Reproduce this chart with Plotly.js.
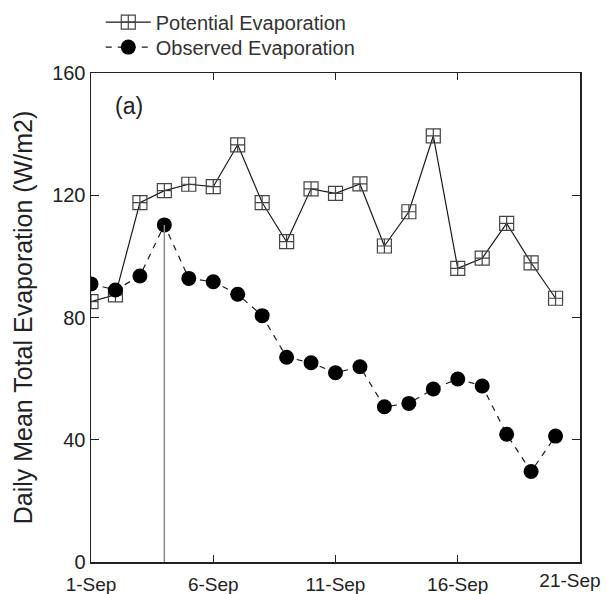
<!DOCTYPE html>
<html>
<head>
<meta charset="utf-8">
<script src="https://cdn.plot.ly/plotly-3.0.1.min.js"></script>
<style>html,body{margin:0;padding:0;background:#fff;}#chart{width:607px;height:594px;}</style>
</head>
<body>
<div id="chart"></div>
<script>
const days = [1,2,3,4,5,6,7,8,9,10,11,12,13,14,15,16,17,18,19,20];
const potential = [85.2,87.4,117.6,121.5,123.6,122.8,136.5,117.6,104.8,122.1,120.6,123.7,103.4,114.6,139.4,96.1,99.4,110.8,97.9,86.3];
const observed = [91.0,89.0,93.6,110.3,92.8,91.7,87.6,80.6,67.0,65.2,61.9,63.9,50.8,51.9,56.6,59.9,57.6,41.8,29.6,41.2];
const tickDays = [1,6,11,16,21];
const tickLabels = ['1-Sep','6-Sep','11-Sep','16-Sep','21-Sep'];
const markerDay = 4;

const n = tickDays.length;
const idx = days.indexOf(markerDay);
const traces = [
  {
    x: [markerDay, markerDay], y: [0, observed[idx]], xaxis: 'x2',
    mode: 'lines', line: {color: '#8c8c8c', width: 1.5},
    showlegend: false, hoverinfo: 'skip'
  },
  {
    x: days, y: potential, name: 'Potential Evaporation',
    mode: 'lines+markers', legend: 'legend',
    line: {color: '#1a1a1a', width: 1.2},
    marker: {symbol: 'square-cross-open', size: 14, color: '#444', line: {width: 1.2}}
  },
  {
    x: days, y: observed, name: 'Observed Evaporation',
    mode: 'lines+markers', legend: 'legend2',
    line: {color: '#1a1a1a', width: 1.2, dash: '6px,6px'},
    marker: {symbol: 'circle', size: 15, color: '#000'}
  }
];

const legendCommon = {
  x: 0.02, xanchor: 'left', yanchor: 'middle',
  font: {size: 20, color: '#333'}, bgcolor: 'rgba(0,0,0,0)',
  itemwidth: 45
};

const layout = {
  width: 607, height: 594,
  margin: {l: 91, r: 27, t: 73, b: 32, autoexpand: false},
  paper_bgcolor: '#fff', plot_bgcolor: '#fff',
  font: {family: 'Liberation Sans, Arial, sans-serif', size: 19, color: '#222'},
  showlegend: true,
  legend: Object.assign({}, legendCommon, {y: 1.104}),
  legend2: Object.assign({}, legendCommon, {y: 1.053}),
  xaxis: {
    range: [tickDays[0], tickDays[n - 1]], tickvals: tickDays, ticktext: tickLabels.slice(0, n - 1).concat(['']),
    ticks: 'inside', ticklen: 7, tickwidth: 1.2, tickcolor: '#222',
    showline: true, linecolor: '#222', linewidth: 1.5, mirror: 'ticks',
    showgrid: false, zeroline: false, tickfont: {size: 19, color: '#222'},
    ticklabelstandoff: 5
  },
  // second axis only carries the last date label, nudged inside the page as in the reference
  xaxis2: {
    overlaying: 'x', anchor: 'y', side: 'bottom',
    range: [tickDays[0], tickDays[n - 1]], tickvals: [tickDays[n - 1]], ticktext: [tickLabels[n - 1]],
    ticks: '', showline: false, showgrid: false, zeroline: false,
    tickfont: {size: 19, color: '#222'}, ticklabelstandoff: 5, ticklabelshift: -10,
    ticklabeloverflow: 'allow'
  },
  yaxis: {
    range: [0, 160], tickvals: [0,40,80,120,160],
    ticks: 'inside', ticklen: 8, tickwidth: 1.2, tickcolor: '#222',
    showline: true, linecolor: '#222', linewidth: 1.5, mirror: 'ticks',
    showgrid: false, zeroline: false, tickfont: {size: 20, color: '#222'},
    title: {text: 'Daily Mean Total Evaporation (W/m2)', font: {size: 25, color: '#222'}, standoff: 12}
  },
  annotations: [{
    text: '(a)', xref: 'paper', yref: 'paper', x: 0.045, y: 0.933,
    xanchor: 'left', yanchor: 'middle', showarrow: false,
    font: {size: 23, color: '#222'}
  }]
};

Plotly.newPlot('chart', traces, layout, {displayModeBar: false, staticPlot: true});
</script>
</body>
</html>
